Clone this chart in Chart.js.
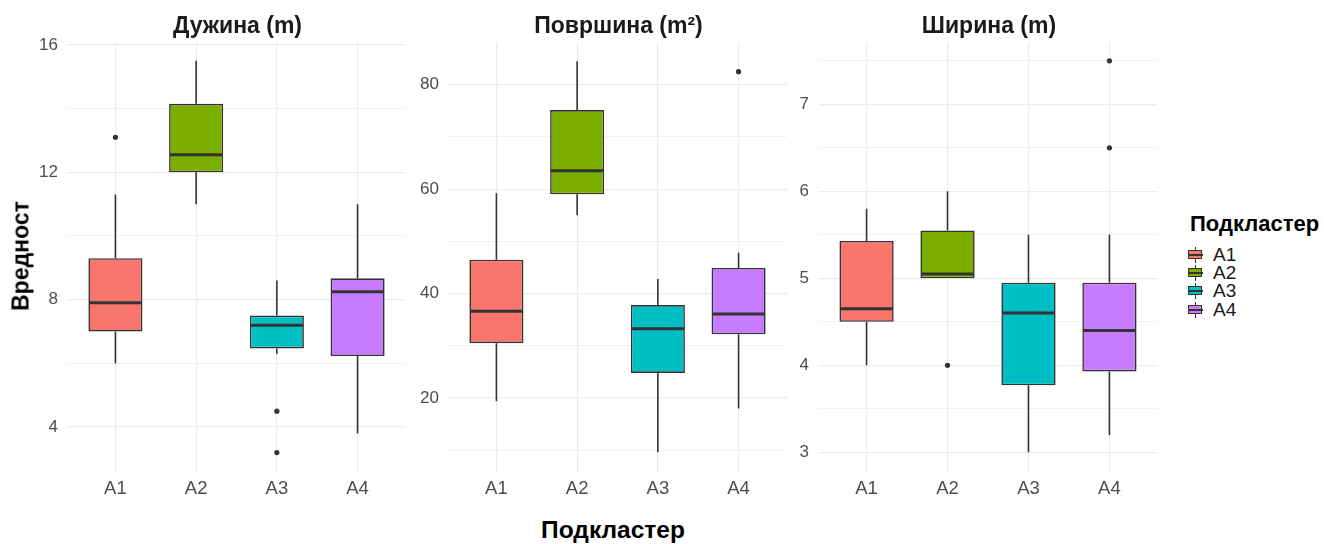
<!DOCTYPE html>
<html>
<head>
<meta charset="utf-8">
<script src="https://cdn.jsdelivr.net/npm/chart.js@4"></script>
<style>
  html, body { margin: 0; padding: 0; background: #fff; }
  #wrap { position: relative; width: 1324px; height: 544px; font-family: "Liberation Sans", Arial, sans-serif; }
  .panel { position: absolute; top: 0; }
  .strip { position: absolute; top: 12px; height: 26px; line-height: 26px; text-align: center; font-weight: bold; font-size: 23px; color: #1a1a1a; }
  #ytitle { position: absolute; left: 21px; top: 256px; transform: translate(-50%, -50%) rotate(-90deg); font-weight: bold; font-size: 23px; color: #000; white-space: nowrap; }
  #xtitle { position: absolute; left: 613px; top: 530px; transform: translate(-50%, -50%); font-weight: bold; font-size: 24.5px; color: #000; white-space: nowrap; }
  #legend { position: absolute; left: 1188px; top: 211px; }
  #legend .ttl { font-weight: bold; font-size: 22px; line-height: 26px; color: #000; margin-left: 2px; margin-bottom: 9px; }
  #legend .row { display: flex; align-items: center; height: 18.2px; font-size: 19px; color: #1a1a1a; }
  #legend .key { position: relative; width: 15px; height: 16px; margin-right: 10px; }
  #legend .key .wh { position: absolute; left: 6.5px; top: 0px; width: 1.5px; height: 16px; background: #333; }
  #legend .key .bx { position: absolute; left: 0px; top: 3px; width: 12px; height: 7px; border: 1.5px solid #333; }
  #legend .key .md { position: absolute; left: 0px; top: 7px; width: 15px; height: 2px; background: #333; }
</style>
</head>
<body>
<div id="wrap">
  <div class="panel" style="left:0px"><canvas id="c1" width="410" height="500"></canvas></div>
  <div class="panel" style="left:410px"><canvas id="c2" width="381" height="500"></canvas></div>
  <div class="panel" style="left:791px"><canvas id="c3" width="371" height="500"></canvas></div>
  <div class="strip" style="left:67px;width:341px">Дужина (m)</div>
  <div class="strip" style="left:448px;width:341px">Површина (m²)</div>
  <div class="strip" style="left:818px;width:342px">Ширина (m)</div>
  <div id="ytitle">Вредност</div>
  <div id="xtitle">Подкластер</div>
  <div id="legend"></div>
</div>
<script>
// ---- data -----------------------------------------------------------------
const categories = ["A1", "A2", "A3", "A4"];
const groupColors = ["#F8766D", "#7CAE00", "#00BFC4", "#C77CFF"];

// Дужина (m)
const lenLower   = [6.0, 11.0, 6.3, 3.8];
const lenQ1      = [7.0, 12.0, 6.47, 6.23];
const lenMedian  = [7.9, 12.55, 7.2, 8.25];
const lenQ3      = [9.3, 14.15, 7.5, 8.67];
const lenUpper   = [11.3, 15.5, 8.6, 11.0];
const lenOutliers = [[13.1], [], [4.5, 3.2], []];
const lenRange = [2.59, 16.09];
const lenMajor = [4, 8, 12, 16];
const lenMinor = [6, 10, 14];

// Површина (m²)
const areaLower  = [19.4, 55.0, 9.6, 18.0];
const areaQ1     = [30.5, 59.0, 24.8, 32.2];
const areaMedian = [36.6, 63.5, 33.25, 36.1];
const areaQ3     = [46.5, 75.15, 37.8, 44.9];
const areaUpper  = [59.2, 84.5, 42.8, 47.8];
const areaOutliers = [[], [], [], [82.5]];
const areaRange = [5.83, 88.18];
const areaMajor = [20, 40, 60, 80];
const areaMinor = [10, 30, 50, 70];

// Ширина (m)
const widLower   = [4.0, 5.0, 3.0, 3.2];
const widQ1      = [4.5, 5.0, 3.77, 3.93];
const widMedian  = [4.65, 5.05, 4.6, 4.4];
const widQ3      = [5.43, 5.55, 4.95, 4.95];
const widUpper   = [5.8, 6.0, 5.5, 5.5];
const widOutliers = [[], [4.0], [], [7.5, 6.5]];
const widRange = [2.774, 7.716];
const widMajor = [3, 4, 5, 6, 7];
const widMinor = [3.5, 4.5, 5.5, 6.5, 7.5];

// ---- helpers --------------------------------------------------------------
const FONT = "'Liberation Sans', Arial, sans-serif";
const INK = "#333333";
const GRID = "#EBEBEB";

// whiskers behind the box, median on top
function boxParts(lower, median, upper, q1, q3) {
  return {
    id: "boxParts",
    beforeDatasetsDraw(chart) {
      const { ctx, scales: { x, y } } = chart;
      ctx.save();
      ctx.strokeStyle = INK;
      ctx.lineWidth = 1.6;
      categories.forEach((c, i) => {
        const px = x.getPixelForValue(i + 1);
        ctx.beginPath();
        ctx.moveTo(px, y.getPixelForValue(lower[i]));
        ctx.lineTo(px, y.getPixelForValue(q1[i]));
        ctx.moveTo(px, y.getPixelForValue(q3[i]));
        ctx.lineTo(px, y.getPixelForValue(upper[i]));
        ctx.stroke();
      });
      ctx.restore();
    },
    afterDatasetsDraw(chart) {
      const { ctx, scales: { y } } = chart;
      const bars = chart.getDatasetMeta(0).data;
      ctx.save();
      ctx.strokeStyle = INK;
      ctx.lineWidth = 3;
      bars.forEach((bar, i) => {
        const py = y.getPixelForValue(median[i]);
        ctx.beginPath();
        ctx.moveTo(bar.x - bar.width / 2 + 0.8, py);
        ctx.lineTo(bar.x + bar.width / 2 - 0.8, py);
        ctx.stroke();
      });
      ctx.restore();
    }
  };
}

function makePanel(id, s, yWidth) {
  const boxes = categories.map((c, i) => ({ x: i + 1, y: [s.q1[i], s.q3[i]] }));
  const points = [];
  s.outliers.forEach((list, i) => list.forEach(v => points.push({ x: i + 1, y: v })));
  const allTicks = [...s.major, ...s.minor].sort((a, b) => a - b);

  return new Chart(document.getElementById(id), {
    type: "bar",
    data: {
      datasets: [
        {
          data: boxes,
          backgroundColor: groupColors,
          borderColor: INK,
          borderWidth: 1.6,
          borderSkipped: false,
          barPercentage: 0.67,
          categoryPercentage: 1,
          order: 2,
        },
        {
          type: "scatter",
          data: points,
          pointRadius: 2.6,
          pointBackgroundColor: INK,
          pointBorderWidth: 0,
          order: 1,
        },
      ],
    },
    options: {
      responsive: false,
      animation: false,
      layout: { padding: { top: 42, right: 2, left: 0, bottom: 0 } },
      plugins: { legend: { display: false }, tooltip: { enabled: false }, title: { display: false } },
      scales: {
        x: {
          type: "linear",
          min: 0.4, max: 4.6,
          offset: false,
          bounds: "data",
          afterBuildTicks: sc => { sc.ticks = categories.map((c, i) => ({ value: i + 1 })); },
          afterFit: sc => { sc.height = 28; },
          ticks: {
            callback: v => categories[Math.round(v) - 1],
            color: "#4D4D4D",
            font: { family: FONT, size: 18.5 },
            padding: 6,
            autoSkip: false,
            maxRotation: 0,
          },
          grid: { color: GRID, lineWidth: 1.2, drawTicks: false, offset: false },
          border: { display: false },
        },
        y: {
          type: "linear",
          min: s.range[0], max: s.range[1],
          bounds: "data",
          afterBuildTicks: sc => { sc.ticks = allTicks.map(v => ({ value: v })); },
          afterFit: sc => { sc.width = yWidth; },
          ticks: {
            callback: v => (s.major.includes(v) ? String(v) : ""),
            color: "#4D4D4D",
            font: { family: FONT, size: 17 },
            padding: 9,
            autoSkip: false,
          },
          grid: {
            color: GRID,
            lineWidth: c => (s.major.includes(c.tick.value) ? 1.2 : 0.7),
            drawTicks: false,
          },
          border: { display: false },
        },
      },
    },
    plugins: [boxParts(s.lower, s.median, s.upper, s.q1, s.q3)],
  });
}

makePanel("c1", { lower: lenLower, q1: lenQ1, median: lenMedian, q3: lenQ3, upper: lenUpper,
  outliers: lenOutliers, range: lenRange, major: lenMajor, minor: lenMinor }, 67);
makePanel("c2", { lower: areaLower, q1: areaQ1, median: areaMedian, q3: areaQ3, upper: areaUpper,
  outliers: areaOutliers, range: areaRange, major: areaMajor, minor: areaMinor }, 38);
makePanel("c3", { lower: widLower, q1: widQ1, median: widMedian, q3: widQ3, upper: widUpper,
  outliers: widOutliers, range: widRange, major: widMajor, minor: widMinor }, 27);

// ---- legend ---------------------------------------------------------------
const legend = document.getElementById("legend");
legend.innerHTML = `<div class="ttl">Подкластер</div>` + categories.map((c, i) =>
  `<div class="row"><span class="key"><span class="wh"></span>` +
  `<span class="bx" style="background:${groupColors[i]}"></span><span class="md"></span></span>${c}</div>`
).join("");
</script>
</body>
</html>
